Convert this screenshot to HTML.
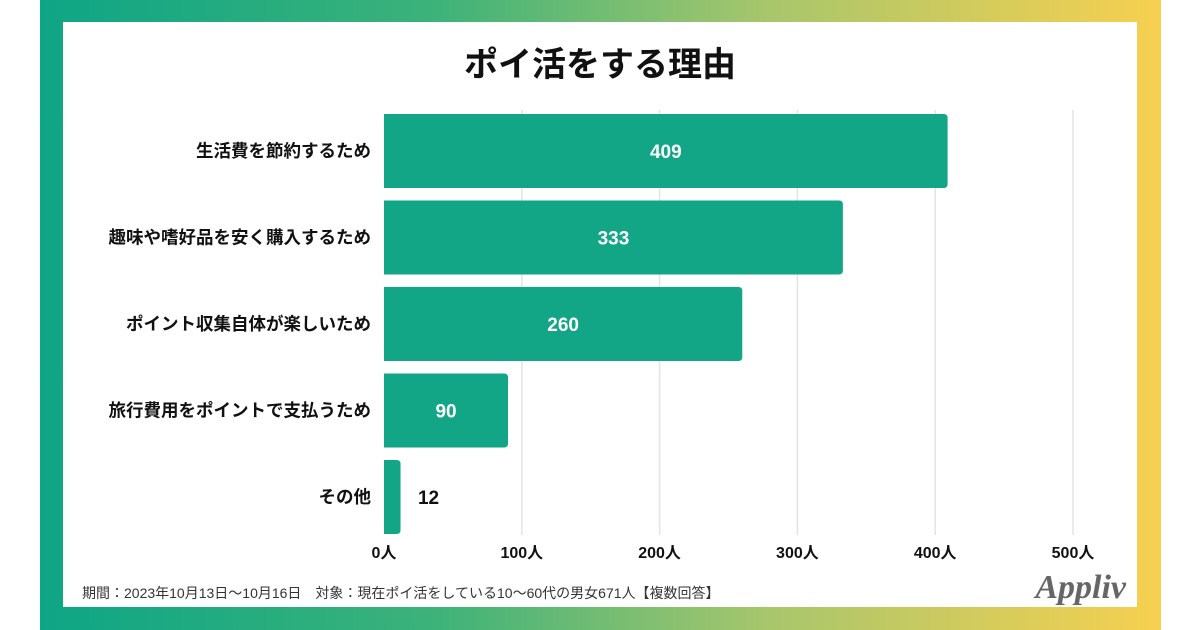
<!DOCTYPE html>
<html><head><meta charset="utf-8"><style>
body{margin:0;width:1200px;height:630px;overflow:hidden;background:#fff;font-family:"Liberation Sans","Noto Sans CJK JP",sans-serif}
#frame{position:absolute;left:40px;top:0;width:1121px;height:630px;background:linear-gradient(90deg,#0ea585 0%,#3cb27a 35%,#a8c66c 65%,#f7d050 100%)}
#panel{position:absolute;left:63px;top:22px;width:1074px;height:585px;background:#fff}
</style></head><body>
<div id="frame"></div>
<div id="panel"></div>
<svg id="chart" width="1200" height="630" style="position:absolute;left:0;top:0">
<text x="600" y="76" text-anchor="middle" font-size="34" font-weight="bold" fill="#111">ポイ活をする理由</text>
<text x="82" y="598" font-size="14" fill="#333">期間：2023年10月13日〜10月16日　対象：現在ポイ活をしている10〜60代の男女671人【複数回答】</text>
<text x="1126" y="598" text-anchor="end" font-size="34" font-style="italic" font-weight="bold" font-family="'Liberation Serif',serif" fill="#666">Appliv</text>
</svg>
<script>
const categories=["生活費を節約するため","趣味や嗜好品を安く購入するため","ポイント収集自体が楽しいため","旅行費用をポイントで支払うため","その他"];
const values=[409,333,260,90,12];
const ticks=[0,100,200,300,400,500];
const svg=document.getElementById('chart');const NS='http://www.w3.org/2000/svg';
const x0=384,x1=1073,vmax=500,top0=114,band=86.5,bh=74;
const xs=v=>x0+(x1-x0)*v/vmax;
function mk(t,a){const e=document.createElementNS(NS,t);for(const k in a)e.setAttribute(k,a[k]);svg.appendChild(e);return e;}
ticks.forEach(t=>{
 if(t>0){const l=mk('line',{x1:xs(t),x2:xs(t),y1:110,y2:535,stroke:'#e4e4e4','stroke-width':1.5});
 
 }
 const tx=mk('text',{x:xs(t),y:558,'text-anchor':'middle','font-size':16,'font-weight':'bold',fill:'#111'});tx.textContent=t+'人';
 
 
});
categories.forEach((c,i)=>{
 const y=top0+i*band,w=xs(values[i])-x0;
 const p=mk('path',{d:`M${x0},${y}H${x0+w-4}Q${x0+w},${y} ${x0+w},${y+4}V${y+bh-4}Q${x0+w},${y+bh} ${x0+w-4},${y+bh}H${x0}Z`,fill:'#12a586'});
 
 
 const lb=mk('text',{x:371,y:y+bh/2+6,'text-anchor':'end','font-size':17.5,'font-weight':'bold',fill:'#111'});lb.textContent=c;
 
 
 const inside=w>60;
 const vl=mk('text',{x:inside?x0+w/2:x0+w+28,y:y+bh/2+7,'text-anchor':'middle','font-size':19,'font-weight':'bold',fill:inside?'#fff':'#111'});vl.textContent=values[i];
 
 
});
</script>
</body></html>
